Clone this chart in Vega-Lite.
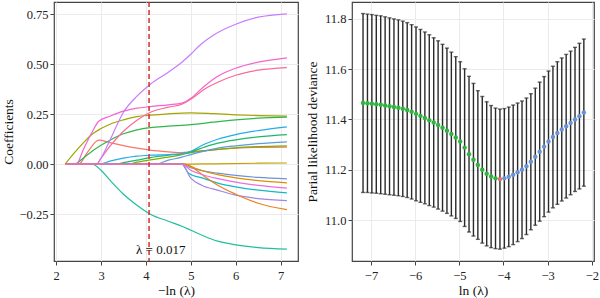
{
  "$schema": "https://vega.github.io/schema/vega-lite/v6.json",
  "background": "white",
  "padding": {"left": 0, "top": 0, "right": 0, "bottom": 0},
  "bounds": "flush",
  "spacing": 54,
  "resolve": {"scale": {"color": "independent"}},
  "config": {
    "font": "Liberation Serif",
    "view": {"stroke": "#444444", "strokeWidth": 1.2},
    "axis": {
      "domain": false,
      "grid": true,
      "gridColor": "#ebebeb",
      "tickColor": "#444444",
      "tickSize": 4,
      "labelFontSize": 12.5,
      "labelColor": "#222222",
      "labelPadding": 4,
      "labelFlush": false,
      "labelOverlap": false,
      "titleFontSize": 13.5,
      "titleFontWeight": "normal",
      "titleColor": "#111111"
    }
  },
  "datasets": {
    "coef": [
      {"id":"L6","x":2.2,"y":0},{"id":"L6","x":2.5,"y":0},{"id":"L6","x":2.7,"y":0.06},{"id":"L6","x":2.95,"y":0.12},{"id":"L6","x":3.2,"y":0.108},{"id":"L6","x":3.5,"y":0.093},{"id":"L6","x":3.8,"y":0.08},{"id":"L6","x":4.1,"y":0.07},{"id":"L6","x":4.5,"y":0.062},{"id":"L6","x":4.8,"y":0.058},{"id":"L6","x":5.0,"y":0.062},{"id":"L6","x":5.5,"y":0.072},{"id":"L6","x":6.0,"y":0.08},{"id":"L6","x":6.5,"y":0.084},{"id":"L6","x":7.14,"y":0.085},
      {"id":"L4","x":2.2,"y":0},{"id":"L4","x":2.4,"y":0.055},{"id":"L4","x":2.6,"y":0.105},{"id":"L4","x":2.8,"y":0.15},{"id":"L4","x":3.0,"y":0.178},{"id":"L4","x":3.2,"y":0.2},{"id":"L4","x":3.5,"y":0.222},{"id":"L4","x":3.8,"y":0.238},{"id":"L4","x":4.1,"y":0.245},{"id":"L4","x":4.5,"y":0.252},{"id":"L4","x":5.0,"y":0.257},{"id":"L4","x":5.5,"y":0.253},{"id":"L4","x":6.0,"y":0.247},{"id":"L4","x":6.5,"y":0.243},{"id":"L4","x":7.14,"y":0.24},
      {"id":"L5","x":2.2,"y":0},{"id":"L5","x":2.4,"y":0},{"id":"L5","x":2.6,"y":0.03},{"id":"L5","x":2.8,"y":0.065},{"id":"L5","x":3.0,"y":0.095},{"id":"L5","x":3.2,"y":0.12},{"id":"L5","x":3.5,"y":0.152},{"id":"L5","x":3.8,"y":0.172},{"id":"L5","x":4.1,"y":0.183},{"id":"L5","x":4.5,"y":0.19},{"id":"L5","x":5.0,"y":0.198},{"id":"L5","x":5.5,"y":0.21},{"id":"L5","x":6.0,"y":0.222},{"id":"L5","x":6.5,"y":0.23},{"id":"L5","x":7.14,"y":0.235},
      {"id":"L10","x":2.2,"y":0},{"id":"L10","x":3.6,"y":0},{"id":"L10","x":3.8,"y":0.01},{"id":"L10","x":4.1,"y":0.022},{"id":"L10","x":4.5,"y":0.035},{"id":"L10","x":4.8,"y":0.048},{"id":"L10","x":5.0,"y":0.058},{"id":"L10","x":5.5,"y":0.072},{"id":"L10","x":6.0,"y":0.082},{"id":"L10","x":6.5,"y":0.088},{"id":"L10","x":7.14,"y":0.092},
      {"id":"L8","x":2.2,"y":0},{"id":"L8","x":3.3,"y":0},{"id":"L8","x":3.5,"y":0.008},{"id":"L8","x":3.8,"y":0.02},{"id":"L8","x":4.1,"y":0.033},{"id":"L8","x":4.5,"y":0.045},{"id":"L8","x":4.8,"y":0.052},{"id":"L8","x":5.0,"y":0.062},{"id":"L8","x":5.3,"y":0.085},{"id":"L8","x":5.6,"y":0.105},{"id":"L8","x":6.0,"y":0.122},{"id":"L8","x":6.5,"y":0.137},{"id":"L8","x":7.14,"y":0.148},
      {"id":"L7","x":2.2,"y":0},{"id":"L7","x":2.95,"y":0},{"id":"L7","x":3.2,"y":0.015},{"id":"L7","x":3.5,"y":0.03},{"id":"L7","x":3.8,"y":0.04},{"id":"L7","x":4.1,"y":0.045},{"id":"L7","x":4.5,"y":0.048},{"id":"L7","x":4.8,"y":0.052},{"id":"L7","x":5.0,"y":0.065},{"id":"L7","x":5.3,"y":0.1},{"id":"L7","x":5.6,"y":0.125},{"id":"L7","x":6.0,"y":0.148},{"id":"L7","x":6.5,"y":0.168},{"id":"L7","x":7.14,"y":0.187},
      {"id":"L9","x":2.2,"y":0},{"id":"L9","x":4.2,"y":0},{"id":"L9","x":4.5,"y":0.02},{"id":"L9","x":4.8,"y":0.035},{"id":"L9","x":5.0,"y":0.048},{"id":"L9","x":5.3,"y":0.065},{"id":"L9","x":5.6,"y":0.08},{"id":"L9","x":6.0,"y":0.092},{"id":"L9","x":6.5,"y":0.103},{"id":"L9","x":7.14,"y":0.112},
      {"id":"L18","x":2.2,"y":0},{"id":"L18","x":2.8,"y":0},{"id":"L18","x":3.0,"y":-0.03},{"id":"L18","x":3.2,"y":-0.08},{"id":"L18","x":3.5,"y":-0.15},{"id":"L18","x":3.8,"y":-0.205},{"id":"L18","x":4.1,"y":-0.25},{"id":"L18","x":4.5,"y":-0.285},{"id":"L18","x":4.8,"y":-0.31},{"id":"L18","x":5.0,"y":-0.33},{"id":"L18","x":5.3,"y":-0.36},{"id":"L18","x":5.6,"y":-0.385},{"id":"L18","x":6.0,"y":-0.403},{"id":"L18","x":6.5,"y":-0.417},{"id":"L18","x":7.14,"y":-0.425},
      {"id":"L3","x":2.2,"y":0},{"id":"L3","x":2.9,"y":0},{"id":"L3","x":3.0,"y":0.03},{"id":"L3","x":3.2,"y":0.09},{"id":"L3","x":3.5,"y":0.165},{"id":"L3","x":3.8,"y":0.22},{"id":"L3","x":4.1,"y":0.26},{"id":"L3","x":4.5,"y":0.285},{"id":"L3","x":4.8,"y":0.3},{"id":"L3","x":5.0,"y":0.325},{"id":"L3","x":5.3,"y":0.375},{"id":"L3","x":5.6,"y":0.41},{"id":"L3","x":6.0,"y":0.445},{"id":"L3","x":6.5,"y":0.47},{"id":"L3","x":7.14,"y":0.483},
      {"id":"L1","x":2.2,"y":0},{"id":"L1","x":2.9,"y":0},{"id":"L1","x":3.0,"y":0.03},{"id":"L1","x":3.2,"y":0.12},{"id":"L1","x":3.5,"y":0.26},{"id":"L1","x":3.8,"y":0.34},{"id":"L1","x":4.1,"y":0.4},{"id":"L1","x":4.5,"y":0.46},{"id":"L1","x":4.8,"y":0.51},{"id":"L1","x":5.0,"y":0.55},{"id":"L1","x":5.2,"y":0.595},{"id":"L1","x":5.5,"y":0.645},{"id":"L1","x":6.0,"y":0.7},{"id":"L1","x":6.5,"y":0.735},{"id":"L1","x":7.14,"y":0.752},
      {"id":"L2","x":2.2,"y":0},{"id":"L2","x":2.45,"y":0},{"id":"L2","x":2.6,"y":0.07},{"id":"L2","x":2.8,"y":0.16},{"id":"L2","x":2.95,"y":0.215},{"id":"L2","x":3.2,"y":0.24},{"id":"L2","x":3.5,"y":0.265},{"id":"L2","x":3.8,"y":0.28},{"id":"L2","x":4.1,"y":0.288},{"id":"L2","x":4.5,"y":0.297},{"id":"L2","x":4.8,"y":0.305},{"id":"L2","x":5.0,"y":0.33},{"id":"L2","x":5.3,"y":0.39},{"id":"L2","x":5.6,"y":0.44},{"id":"L2","x":6.0,"y":0.48},{"id":"L2","x":6.5,"y":0.51},{"id":"L2","x":7.14,"y":0.532},
      {"id":"L11","x":2.2,"y":0},{"id":"L11","x":4.8,"y":0},{"id":"L11","x":5.5,"y":0.002},{"id":"L11","x":6.5,"y":0.005},{"id":"L11","x":7.14,"y":0.006},
      {"id":"L12","x":2.2,"y":0},{"id":"L12","x":4.8,"y":0},{"id":"L12","x":5.0,"y":-0.018},{"id":"L12","x":5.3,"y":-0.035},{"id":"L12","x":5.6,"y":-0.045},{"id":"L12","x":6.0,"y":-0.056},{"id":"L12","x":6.5,"y":-0.066},{"id":"L12","x":7.14,"y":-0.073},
      {"id":"L13","x":2.2,"y":0},{"id":"L13","x":4.85,"y":0},{"id":"L13","x":5.1,"y":-0.02},{"id":"L13","x":5.3,"y":-0.035},{"id":"L13","x":5.6,"y":-0.052},{"id":"L13","x":6.0,"y":-0.068},{"id":"L13","x":6.5,"y":-0.082},{"id":"L13","x":7.14,"y":-0.093},
      {"id":"L15","x":2.2,"y":0},{"id":"L15","x":4.8,"y":0},{"id":"L15","x":4.95,"y":-0.045},{"id":"L15","x":5.3,"y":-0.072},{"id":"L15","x":5.6,"y":-0.095},{"id":"L15","x":6.0,"y":-0.113},{"id":"L15","x":6.5,"y":-0.13},{"id":"L15","x":7.14,"y":-0.143},
      {"id":"L16","x":2.2,"y":0},{"id":"L16","x":4.8,"y":0},{"id":"L16","x":5.0,"y":-0.07},{"id":"L16","x":5.24,"y":-0.105},{"id":"L16","x":5.6,"y":-0.13},{"id":"L16","x":6.0,"y":-0.155},{"id":"L16","x":6.5,"y":-0.172},{"id":"L16","x":7.14,"y":-0.182},
      {"id":"L17","x":2.2,"y":0},{"id":"L17","x":4.85,"y":0},{"id":"L17","x":5.0,"y":-0.012},{"id":"L17","x":5.3,"y":-0.06},{"id":"L17","x":5.6,"y":-0.105},{"id":"L17","x":6.0,"y":-0.15},{"id":"L17","x":6.5,"y":-0.195},{"id":"L17","x":7.14,"y":-0.227},
      {"id":"L14","x":2.2,"y":0},{"id":"L14","x":4.8,"y":0},{"id":"L14","x":5.0,"y":-0.03},{"id":"L14","x":5.3,"y":-0.055},{"id":"L14","x":5.6,"y":-0.072},{"id":"L14","x":6.0,"y":-0.09},{"id":"L14","x":6.5,"y":-0.106},{"id":"L14","x":7.14,"y":-0.12}
    ],
    "cv": [
      {"x":-7.18,"m":11.465,"lo":11.110,"hi":11.820,"g":"a"},
      {"x":-7.08,"m":11.464,"lo":11.110,"hi":11.818,"g":"a"},
      {"x":-6.98,"m":11.462,"lo":11.108,"hi":11.816,"g":"a"},
      {"x":-6.88,"m":11.460,"lo":11.107,"hi":11.813,"g":"a"},
      {"x":-6.78,"m":11.458,"lo":11.105,"hi":11.811,"g":"a"},
      {"x":-6.68,"m":11.455,"lo":11.103,"hi":11.807,"g":"a"},
      {"x":-6.58,"m":11.452,"lo":11.101,"hi":11.803,"g":"a"},
      {"x":-6.48,"m":11.449,"lo":11.099,"hi":11.799,"g":"a"},
      {"x":-6.38,"m":11.446,"lo":11.097,"hi":11.795,"g":"a"},
      {"x":-6.28,"m":11.442,"lo":11.094,"hi":11.790,"g":"a"},
      {"x":-6.18,"m":11.437,"lo":11.090,"hi":11.784,"g":"a"},
      {"x":-6.08,"m":11.430,"lo":11.084,"hi":11.776,"g":"a"},
      {"x":-5.98,"m":11.422,"lo":11.077,"hi":11.767,"g":"a"},
      {"x":-5.88,"m":11.414,"lo":11.071,"hi":11.757,"g":"a"},
      {"x":-5.78,"m":11.406,"lo":11.065,"hi":11.747,"g":"a"},
      {"x":-5.68,"m":11.397,"lo":11.058,"hi":11.736,"g":"a"},
      {"x":-5.58,"m":11.388,"lo":11.052,"hi":11.724,"g":"a"},
      {"x":-5.48,"m":11.378,"lo":11.044,"hi":11.712,"g":"a"},
      {"x":-5.38,"m":11.367,"lo":11.036,"hi":11.698,"g":"a"},
      {"x":-5.28,"m":11.355,"lo":11.027,"hi":11.683,"g":"a"},
      {"x":-5.18,"m":11.342,"lo":11.017,"hi":11.667,"g":"a"},
      {"x":-5.08,"m":11.328,"lo":11.007,"hi":11.649,"g":"a"},
      {"x":-4.98,"m":11.312,"lo":10.995,"hi":11.629,"g":"a"},
      {"x":-4.88,"m":11.288,"lo":10.975,"hi":11.601,"g":"a"},
      {"x":-4.78,"m":11.262,"lo":10.953,"hi":11.571,"g":"a"},
      {"x":-4.68,"m":11.240,"lo":10.937,"hi":11.543,"g":"a"},
      {"x":-4.58,"m":11.219,"lo":10.924,"hi":11.514,"g":"a"},
      {"x":-4.48,"m":11.200,"lo":10.909,"hi":11.491,"g":"a"},
      {"x":-4.38,"m":11.184,"lo":10.898,"hi":11.470,"g":"a"},
      {"x":-4.28,"m":11.173,"lo":10.891,"hi":11.455,"g":"a"},
      {"x":-4.18,"m":11.166,"lo":10.887,"hi":11.445,"g":"a"},
      {"x":-4.08,"m":11.163,"lo":10.885,"hi":11.441,"g":"b"},
      {"x":-3.98,"m":11.166,"lo":10.889,"hi":11.443,"g":"c"},
      {"x":-3.88,"m":11.172,"lo":10.895,"hi":11.449,"g":"c"},
      {"x":-3.78,"m":11.180,"lo":10.903,"hi":11.457,"g":"c"},
      {"x":-3.68,"m":11.190,"lo":10.915,"hi":11.465,"g":"c"},
      {"x":-3.58,"m":11.200,"lo":10.927,"hi":11.473,"g":"c"},
      {"x":-3.48,"m":11.214,"lo":10.943,"hi":11.485,"g":"c"},
      {"x":-3.38,"m":11.232,"lo":10.962,"hi":11.502,"g":"c"},
      {"x":-3.28,"m":11.252,"lo":10.980,"hi":11.524,"g":"c"},
      {"x":-3.18,"m":11.272,"lo":10.996,"hi":11.548,"g":"c"},
      {"x":-3.08,"m":11.292,"lo":11.014,"hi":11.570,"g":"c"},
      {"x":-2.98,"m":11.312,"lo":11.032,"hi":11.592,"g":"c"},
      {"x":-2.88,"m":11.330,"lo":11.049,"hi":11.611,"g":"c"},
      {"x":-2.78,"m":11.346,"lo":11.063,"hi":11.629,"g":"c"},
      {"x":-2.68,"m":11.360,"lo":11.076,"hi":11.644,"g":"c"},
      {"x":-2.58,"m":11.373,"lo":11.088,"hi":11.658,"g":"c"},
      {"x":-2.48,"m":11.386,"lo":11.101,"hi":11.671,"g":"c"},
      {"x":-2.38,"m":11.400,"lo":11.114,"hi":11.686,"g":"c"},
      {"x":-2.28,"m":11.413,"lo":11.124,"hi":11.702,"g":"c"},
      {"x":-2.18,"m":11.427,"lo":11.135,"hi":11.719,"g":"c"}
    ]
  },
  "hconcat": [
    {
      "width": 244,
      "height": 259,
      "resolve": {"axis": {"x": "independent", "y": "independent"}},
      "layer": [
        {
          "data": {"name": "coef"},
          "mark": {"type": "line", "interpolate": "monotone", "strokeWidth": 1.2},
          "encoding": {
            "x": {"field": "x", "type": "quantitative",
              "scale": {"domain": [1.953, 7.387], "nice": false, "zero": false},
              "axis": {"orient": "bottom", "title": "−ln (λ)", "values": [2, 3, 4, 5, 6, 7], "format": "d", "titlePadding": 2}},
            "y": {"field": "y", "type": "quantitative",
              "scale": {"domain": [-0.484, 0.811], "nice": false, "zero": false},
              "axis": {"orient": "left", "title": "Coefficients", "values": [-0.25, 0, 0.25, 0.5, 0.75], "format": ".2f", "labelPadding": 2, "titlePadding": 4}},
            "color": {"field": "id", "type": "nominal", "legend": null,
              "scale": {
                "domain": ["L1","L2","L3","L4","L5","L6","L7","L8","L9","L10","L11","L12","L13","L14","L15","L16","L17","L18"],
                "range": ["#c77cff","#f365d0","#fb6a97","#a3a500","#2db84a","#f8766d","#22aee8","#1cb86a","#5e9bd8","#7cae00","#c2a300","#6b95d6","#dd8f00","#e46fe0","#13b8c4","#a086e6","#ef8020","#1fbf9a"]}}
          }
        },
        {
          "data": {"name": "coef"},
          "mark": {"type": "point", "opacity": 0},
          "encoding": {
            "x": {"field": "x", "type": "quantitative",
              "axis": {"orient": "top", "values": [2.5, 3.5, 4.5, 5.5, 6.5], "labels": false, "ticks": false, "title": null, "gridWidth": 0.6}},
            "y": {"field": "y", "type": "quantitative",
              "axis": {"orient": "right", "values": [-0.375, -0.125, 0.125, 0.375, 0.625], "labels": false, "ticks": false, "title": null, "gridWidth": 0.6}}
          }
        },
        {
          "data": {"values": [{"x": 4.07}]},
          "mark": {"type": "rule", "color": "#d42f2f", "strokeDash": [5, 3], "strokeWidth": 1.5},
          "encoding": {"x": {"field": "x", "type": "quantitative", "axis": null}}
        },
        {
          "data": {"values": [{"x": 4.33, "y": -0.427, "label": "λ = 0.017"}]},
          "mark": {"type": "text", "fontSize": 13, "color": "#111111", "font": "Liberation Serif"},
          "encoding": {
            "x": {"field": "x", "type": "quantitative", "axis": null},
            "y": {"field": "y", "type": "quantitative", "axis": null},
            "text": {"field": "label"}
          }
        }
      ]
    },
    {
      "width": 242,
      "height": 259,
      "data": {"name": "cv"},
      "resolve": {"axis": {"x": "independent", "y": "independent"}},
      "layer": [
        {
          "mark": {"type": "errorbar", "ticks": true, "size": 4, "thickness": 1.4, "color": "#2a2a2a"},
          "encoding": {
            "x": {"field": "x", "type": "quantitative",
              "scale": {"domain": [-7.43, -1.95], "nice": false, "zero": false},
              "axis": {"orient": "bottom", "title": "ln (λ)", "values": [-7, -6, -5, -4, -3, -2], "format": "d", "titlePadding": 2}},
            "y": {"field": "lo", "type": "quantitative",
              "scale": {"domain": [10.838, 11.866], "nice": false, "zero": false},
              "axis": {"orient": "left", "title": "Parial likelihood deviance", "values": [11.0, 11.2, 11.4, 11.6, 11.8], "format": ".1f", "labelPadding": 2, "titlePadding": 5}},
            "y2": {"field": "hi"}
          }
        },
        {
          "mark": {"type": "point", "opacity": 0},
          "encoding": {
            "x": {"field": "x", "type": "quantitative",
              "axis": {"orient": "top", "values": [-6.5, -5.5, -4.5, -3.5, -2.5], "labels": false, "ticks": false, "title": null, "gridWidth": 0.6}},
            "y": {"field": "m", "type": "quantitative",
              "axis": {"orient": "right", "values": [10.9, 11.1, 11.3, 11.5, 11.7], "labels": false, "ticks": false, "title": null, "gridWidth": 0.6}}
          }
        },
        {
          "mark": {"type": "point", "filled": true, "size": 20, "opacity": 1},
          "encoding": {
            "x": {"field": "x", "type": "quantitative", "axis": null},
            "y": {"field": "m", "type": "quantitative", "axis": null},
            "color": {"field": "g", "type": "nominal", "legend": null,
              "scale": {"domain": ["a", "b", "c"], "range": ["#2fb53f", "#f26c64", "#6b93d6"]}}
          }
        }
      ]
    }
  ]
}
